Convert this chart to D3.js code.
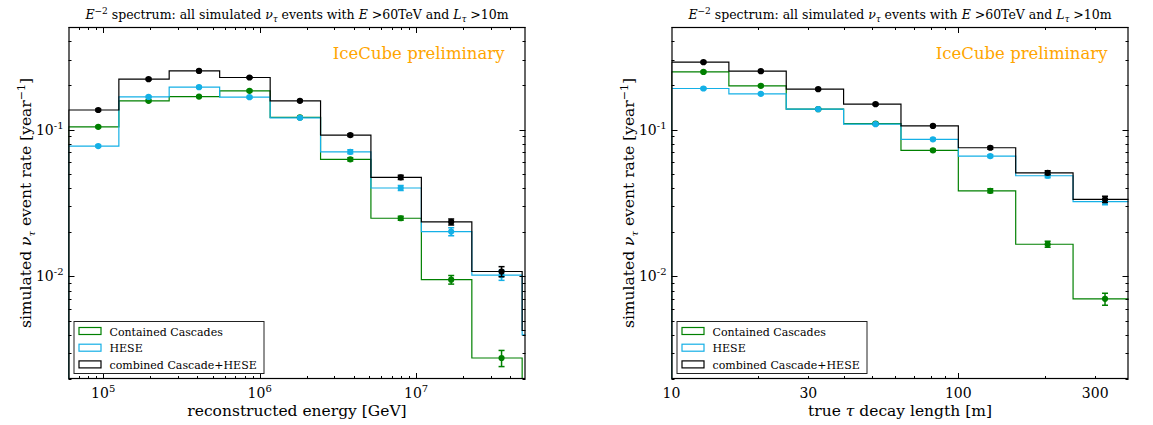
<!DOCTYPE html>
<html>
<head>
<meta charset="utf-8">
<script src="https://cdn.jsdelivr.net/npm/d3@7"></script>
<style>
  body { margin: 0; background: #fff; }
  svg text { font-family: "DejaVu Serif", "Liberation Serif", "Times New Roman", serif; fill: #000; }
</style>
</head>
<body>
<script>
// ---- data: reconstructed energy (left panel) ----
const energyEdges = [6.0e4, 1.259e5, 2.64e5, 5.55e5, 1.167e6, 2.45e6, 5.14e6, 1.08e7, 2.27e7, 4.76e7, 1.0e8];
const energyCascade    = [0.1045, 0.157, 0.168, 0.1836, 0.121, 0.0627, 0.0249, 0.0095, 0.00278, 0];
const energyCascadeErr = [0.0015, 0.0022, 0.0024, 0.0026, 0.0018, 0.0015, 0.0008, 0.00064, 0.00035, 0];
const energyHese       = [0.0772, 0.167, 0.1946, 0.1663, 0.1203, 0.0706, 0.040, 0.0202, 0.0102, 0.0040];
const energyHeseErr    = [0.0012, 0.0025, 0.0028, 0.0025, 0.0018, 0.0022, 0.0016, 0.00127, 0.0008, 0.0004];
const energyCombined   = [0.136, 0.2206, 0.251, 0.2265, 0.157, 0.0918, 0.0473, 0.0235, 0.0108, 0.00428];
const energyCombinedErr= [0.002, 0.003, 0.0035, 0.003, 0.0022, 0.002, 0.0015, 0.0011, 0.00085, 0.0004];

// ---- data: true tau decay length (right panel) ----
const lengthEdges = [10, 15.85, 25.12, 39.81, 63.10, 100, 158.5, 251.2, 398.1];
const lengthCascade    = [0.247, 0.1987, 0.1378, 0.110, 0.0722, 0.0383, 0.01656, 0.00703];
const lengthCascadeErr = [0.0035, 0.003, 0.002, 0.0017, 0.0012, 0.0012, 0.00078, 0.00066];
const lengthHese       = [0.1906, 0.1752, 0.1378, 0.1089, 0.0858, 0.066, 0.0485, 0.0323];
const lengthHeseErr    = [0.0028, 0.0026, 0.002, 0.0017, 0.0015, 0.0014, 0.0015, 0.0015];
const lengthCombined   = [0.288, 0.250, 0.1886, 0.149, 0.106, 0.0752, 0.0508, 0.0335];
const lengthCombinedErr= [0.004, 0.0035, 0.0028, 0.0022, 0.0016, 0.0016, 0.0016, 0.0016];

const seriesNames  = ["Contained Cascades", "HESE", "combined Cascade+HESE"];
const seriesColors = ["#008000", "#14b0e6", "#000000"];

const yDomain = [0.002, 0.5];
const yMajor = [0.01, 0.1];

const W = 1153, H = 425;
const svg = d3.select("body").append("svg")
  .attr("width", W).attr("height", H)
  .attr("font-family", "'DejaVu Serif', 'Liberation Serif', serif");

function drawPanel (o) {
  const left = o.left, right = o.left + 457, top = 27, bottom = 379;
  const x = d3.scaleLog().domain(o.xDomain).range([left, right]);
  const y = d3.scaleLog().domain(yDomain).range([bottom, top]);
  const yv = v => v > 0 ? y(v) : bottom + 20;

  const g = svg.append("g");
  const clipId = "clip" + o.id;
  g.append("clipPath").attr("id", clipId)
    .append("rect").attr("x", left).attr("y", top)
    .attr("width", right - left).attr("height", bottom - top);

  const plot = g.append("g").attr("clip-path", `url(#${clipId})`);

  // step histograms
  o.series.forEach((s, k) => {
    const pts = [[x(o.edges[0]), bottom + 20]];
    s.values.forEach((v, i) => {
      pts.push([x(o.edges[i]), yv(v)]);
      pts.push([x(o.edges[i + 1]), yv(v)]);
    });
    pts.push([x(o.edges[o.edges.length - 1]), bottom + 20]);
    plot.append("path")
      .attr("d", d3.line()(pts))
      .attr("fill", "none")
      .attr("stroke", seriesColors[k])
      .attr("stroke-width", 1.2);
  });

  // markers with error bars
  o.series.forEach((s, k) => {
    const pts = s.values.map((v, i) => ({
      cx: x((o.edges[i] + o.edges[i + 1]) / 2), v: v, e: s.errs[i]
    })).filter(d => d.v > 0);
    const mg = plot.append("g")
      .attr("stroke", seriesColors[k]).attr("fill", seriesColors[k]);
    mg.selectAll("line.bar").data(pts).join("line")
      .attr("x1", d => d.cx).attr("x2", d => d.cx)
      .attr("y1", d => y(d.v - d.e)).attr("y2", d => y(d.v + d.e))
      .attr("stroke-width", 1.5);
    mg.selectAll("line.lo").data(pts).join("line")
      .attr("x1", d => d.cx - 3).attr("x2", d => d.cx + 3)
      .attr("y1", d => y(d.v - d.e)).attr("y2", d => y(d.v - d.e))
      .attr("stroke-width", 1.5);
    mg.selectAll("line.hi").data(pts).join("line")
      .attr("x1", d => d.cx - 3).attr("x2", d => d.cx + 3)
      .attr("y1", d => y(d.v + d.e)).attr("y2", d => y(d.v + d.e))
      .attr("stroke-width", 1.5);
    mg.selectAll("circle").data(pts).join("circle")
      .attr("cx", d => d.cx).attr("cy", d => y(d.v))
      .attr("r", 3.1).attr("stroke", "none");
  });

  // ticks (inward, all four sides)
  const ax = g.append("g").attr("stroke", "#000").attr("stroke-width", 1);
  const xMinor = x.ticks().filter(t => t > o.xDomain[0] && t < o.xDomain[1]);
  xMinor.forEach(t => {
    const major = o.xMajor.includes(t);
    const len = major ? 6 : 3;
    const px = Math.round(x(t)) + 0.5;
    ax.append("line").attr("x1", px).attr("x2", px).attr("y1", bottom).attr("y2", bottom - len);
    ax.append("line").attr("x1", px).attr("x2", px).attr("y1", top).attr("y2", top + len);
  });
  const yTicks = y.ticks().filter(t => t >= yDomain[0] && t <= yDomain[1]);
  yTicks.forEach(t => {
    const major = yMajor.some(m => Math.abs(m - t) / m < 1e-6);
    const len = major ? 6 : 3;
    const py = Math.round(y(t)) + 0.5;
    ax.append("line").attr("x1", left).attr("x2", left + len).attr("y1", py).attr("y2", py);
    ax.append("line").attr("x1", right).attr("x2", right - len).attr("y1", py).attr("y2", py);
  });

  // frame
  g.append("rect")
    .attr("x", left + 0.5).attr("y", top + 0.5)
    .attr("width", right - left - 1).attr("height", bottom - top - 1)
    .attr("fill", "none").attr("stroke", "#000").attr("stroke-width", 1.2);

  // x tick labels
  o.xLabels.forEach(t => {
    const tx = g.append("text")
      .attr("x", x(t)).attr("y", bottom + 19)
      .attr("text-anchor", "middle").attr("font-size", 14);
    if (o.powLabels) {
      tx.append("tspan").text("10");
      tx.append("tspan").attr("dy", -6).attr("font-size", 10).text(Math.round(Math.log10(t)));
    } else {
      tx.text(t);
    }
  });

  // y tick labels
  yMajor.forEach(t => {
    const tx = g.append("text")
      .attr("x", left - 5).attr("y", y(t) + 5)
      .attr("text-anchor", "end").attr("font-size", 14);
    tx.append("tspan").text("10");
    tx.append("tspan").attr("dy", -6).attr("font-size", 10).text("-" + Math.round(-Math.log10(t)));
  });

  // axis labels
  const xl = g.append("text")
    .attr("x", (left + right) / 2).attr("y", bottom + 37)
    .attr("text-anchor", "middle").attr("font-size", 15.5);
  o.xTitle(xl);

  const yl = g.append("text")
    .attr("transform", `translate(${left - 38},${(top + bottom) / 2}) rotate(-90)`)
    .attr("text-anchor", "middle").attr("font-size", 15.5);
  yl.append("tspan").text("simulated ");
  yl.append("tspan").attr("font-style", "italic").text("ν");
  yl.append("tspan").attr("dy", 4).attr("font-size", 10).attr("font-style", "italic").text("τ");
  yl.append("tspan").attr("dy", -4).text(" event rate [year");
  yl.append("tspan").attr("dy", -6).attr("font-size", 11).text("−1");
  yl.append("tspan").attr("dy", 6).text("]");

  // title
  const tt = g.append("text")
    .attr("x", (left + right) / 2).attr("y", 19)
    .attr("text-anchor", "middle").attr("font-size", 12.5);
  tt.append("tspan").attr("font-style", "italic").text("E");
  tt.append("tspan").attr("dy", -5).attr("font-size", 9).text("−2");
  tt.append("tspan").attr("dy", 5).text(" spectrum: all simulated ");
  tt.append("tspan").attr("font-style", "italic").text("ν");
  tt.append("tspan").attr("dy", 3).attr("font-size", 8.5).attr("font-style", "italic").text("τ");
  tt.append("tspan").attr("dy", -3).text(" events with ");
  tt.append("tspan").attr("font-style", "italic").text("E");
  tt.append("tspan").text(" >60TeV and ");
  tt.append("tspan").attr("font-style", "italic").text("L");
  tt.append("tspan").attr("dy", 3).attr("font-size", 8.5).attr("font-style", "italic").text("τ");
  tt.append("tspan").attr("dy", -3).text(" >10m");

  // IceCube preliminary
  g.append("text")
    .attr("x", right - 21).attr("y", 59)
    .attr("text-anchor", "end").attr("font-size", 16.5)
    .style("fill", "#ffa500")
    .text("IceCube preliminary");

  // legend
  const lg = g.append("g").attr("transform", `translate(${left + 5},${bottom - 58})`);
  lg.append("rect").attr("x", 0.5).attr("y", 0.5).attr("width", 190).attr("height", 52)
    .attr("fill", "#fff").attr("stroke", "#222").attr("stroke-width", 1);
  seriesNames.forEach((name, k) => {
    lg.append("rect").attr("x", 5.5).attr("y", 6.5 + k * 16.7)
      .attr("width", 22).attr("height", 7)
      .attr("fill", "#fff").attr("stroke", seriesColors[k]).attr("stroke-width", 1.2);
    lg.append("text").attr("x", 36).attr("y", 14.5 + k * 16.7)
      .attr("font-size", 11).text(name);
  });
}

drawPanel({
  id: "E", left: 68.5,
  xDomain: [6.0e4, 5.0e7],
  xMajor: [1e5, 1e6, 1e7],
  xLabels: [1e5, 1e6, 1e7],
  powLabels: true,
  edges: energyEdges,
  series: [
    { values: energyCascade, errs: energyCascadeErr },
    { values: energyHese, errs: energyHeseErr },
    { values: energyCombined, errs: energyCombinedErr }
  ],
  xTitle: t => t.text("reconstructed energy [GeV]")
});

drawPanel({
  id: "L", left: 671.5,
  xDomain: [10, 392],
  xMajor: [10, 100],
  xLabels: [10, 30, 100, 300],
  powLabels: false,
  edges: lengthEdges,
  series: [
    { values: lengthCascade, errs: lengthCascadeErr },
    { values: lengthHese, errs: lengthHeseErr },
    { values: lengthCombined, errs: lengthCombinedErr }
  ],
  xTitle: t => {
    t.append("tspan").text("true ");
    t.append("tspan").attr("font-style", "italic").text("τ");
    t.append("tspan").text(" decay length [m]");
  }
});
</script>
</body>
</html>
